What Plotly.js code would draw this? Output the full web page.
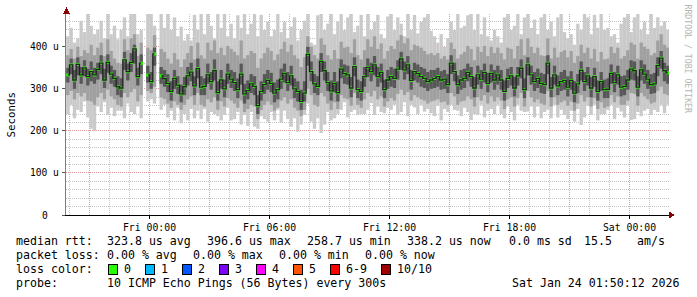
<!DOCTYPE html>
<html><head><meta charset="utf-8">
<script src="https://cdn.plot.ly/plotly-3.0.1.min.js"></script>
<style>
html,body{margin:0;padding:0;background:#fff;}
#chart{width:697px;height:297px;}
.shapelayer path{shape-rendering:crispEdges;}
</style>
</head><body><div id="chart"></div>
<script>
// ---- data (microseconds), one value per 10-minute step starting Thu 19:50 ----
const median = [
333,357,321,358,333,350,329,341,333,346,
361,321,363,335,325,305,302,369,341,363,
395,329,361,null,333,317,383,null,331,324,
313,294,325,309,288,305,331,340,307,348,
304,306,333,317,343,291,321,300,335,323,
315,298,335,288,296,312,306,260,294,310,
320,313,290,298,323,337,315,331,300,294,
270,290,382,341,312,306,365,343,315,295,
313,291,347,336,333,302,353,298,294,329,
351,341,357,329,339,298,321,329,325,347,
371,345,357,320,341,336,329,325,317,321,
325,329,321,323,310,361,341,310,321,325,
339,329,302,333,323,339,313,337,321,333,
321,294,325,331,302,331,349,298,357,333,
317,325,313,310,361,302,333,307,317,320,
304,320,290,312,344,317,331,302,329,294,
317,298,299,337,315,333,304,306,321,347,
343,304,345,335,323,310,312,355,373,343,
338];
const pingMax = [
425,445,410,420,462,435,482,450,430,440,
462,420,485,430,450,418,440,470,425,485,
478,430,440,null,485,490,450,null,480,445,
485,440,470,425,448,415,430,415,476,440,
482,430,488,450,420,478,445,485,425,455,
420,475,445,488,430,455,480,425,476,440,
460,425,440,488,435,460,420,448,470,415,
440,462,480,410,405,475,488,440,455,480,
430,460,482,440,470,488,435,450,476,425,
480,440,460,476,430,420,472,485,440,470,
455,425,480,440,476,432,460,470,482,438,
425,410,430,400,420,460,440,480,445,450,
475,485,440,480,430,470,425,415,440,425,
410,470,480,440,450,488,430,470,482,445,
465,430,470,482,440,460,425,470,478,435,
420,430,405,455,440,480,470,430,476,445,
482,440,445,425,430,410,455,470,480,435,
470,482,440,460,430,478,445,470,450,460,
440];
const pingMin = [
240,262,230,250,245,270,232,205,200,258,
245,268,238,255,235,248,248,230,265,245,
240,258,230,null,270,275,265,null,250,262,
232,248,225,255,218,240,225,252,230,248,
228,252,222,245,240,235,225,238,255,225,
228,245,215,238,212,245,210,205,235,228,
222,245,225,250,220,248,228,210,230,198,
215,238,265,222,205,230,195,215,245,225,
230,240,250,268,232,245,250,238,240,240,
250,266,238,258,245,242,255,250,262,238,
245,268,235,262,256,240,262,246,252,242,
235,260,225,252,245,262,250,248,235,255,
245,226,240,238,262,232,248,252,240,262,
240,230,258,245,225,262,248,245,246,258,
232,258,230,245,250,230,262,232,250,238,
228,248,222,252,214,232,260,238,262,225,
240,240,250,262,228,255,246,232,260,226,
228,245,235,248,252,238,250,245,262,242,
262];
const outerHi = [
380,395,372,400,378,392,385,405,380,398,
410,378,418,390,372,362,360,418,392,420,
430,378,410,null,398,392,428,null,395,388,
372,360,385,370,352,370,385,402,370,410,
380,372,410,392,415,385,398,380,402,395,
388,380,415,372,380,390,385,350,372,385,
398,390,368,382,395,412,388,405,380,372,
352,375,425,400,380,372,420,405,380,370,
392,372,412,398,400,385,418,380,370,392,
418,400,425,395,408,372,390,402,395,415,
428,408,420,392,405,402,398,390,382,385,
380,385,372,378,370,410,395,372,382,388,
402,395,368,400,388,402,378,400,385,398,
385,370,398,395,372,402,418,380,420,400,
385,398,380,378,420,372,398,375,388,392,
375,390,362,378,405,385,398,372,395,365,
388,370,372,400,385,398,372,378,392,410,
405,372,410,400,395,380,385,415,430,405,
398];
const outerLo = [
285,295,275,290,282,290,272,270,262,280,
290,275,298,282,275,262,258,290,280,292,
300,270,285,null,295,290,305,null,280,276,
265,255,270,262,250,262,275,282,262,290,
262,258,275,268,280,250,270,258,278,272,
265,255,272,245,252,262,258,228,250,262,
270,262,248,255,272,280,265,275,255,248,
235,250,300,285,262,258,290,282,265,250,
268,252,285,278,275,260,290,262,255,275,
290,282,295,275,282,258,270,278,272,288,
298,285,292,272,285,280,275,272,265,270,
272,275,268,270,262,290,282,262,270,272,
282,275,258,280,272,285,265,282,270,280,
272,252,275,280,258,278,290,258,295,280,
268,275,265,262,295,258,280,262,268,272,
260,270,248,265,285,270,280,258,278,252,
268,255,258,285,268,282,262,262,272,290,
288,260,290,282,275,265,268,295,305,288,
285];
const innerHi = [
350,372,345,375,352,368,348,365,350,362,
380,348,382,355,345,330,325,388,360,385,
405,350,382,null,355,340,398,null,352,345,
335,318,345,330,310,328,352,362,330,372,
330,325,360,340,370,318,345,322,360,345,
340,325,360,312,320,335,330,285,318,335,
345,338,315,322,348,360,340,355,325,318,
298,318,400,365,335,330,385,365,340,320,
340,318,370,358,355,328,375,322,318,352,
372,362,378,352,360,322,345,352,348,368,
388,365,378,345,362,358,352,348,340,345,
345,350,342,345,335,380,362,332,345,348,
360,352,328,355,345,360,338,358,345,355,
345,320,348,352,328,352,370,325,375,355,
340,348,338,335,380,328,355,332,340,345,
330,342,318,335,365,340,352,328,350,320,
340,322,325,358,340,355,330,332,345,368,
365,330,368,358,345,335,338,375,390,362,
355];
const innerLo = [
315,335,300,332,312,330,308,318,312,322,
335,302,338,312,305,285,280,345,320,340,
360,308,335,null,315,300,355,null,312,305,
292,272,300,288,268,285,308,318,285,325,
285,285,312,298,320,272,300,280,312,302,
295,278,310,265,275,290,285,240,272,288,
298,292,268,275,300,315,295,308,278,270,
250,270,355,318,290,285,340,320,295,272,
292,270,325,312,310,280,330,278,272,305,
328,318,332,305,315,278,300,305,302,322,
345,322,335,298,320,315,305,302,295,300,
302,305,298,300,290,335,318,288,298,302,
318,305,280,310,300,315,292,315,298,310,
298,272,302,308,282,308,325,278,332,310,
295,302,290,288,335,280,310,285,295,298,
282,298,268,290,320,295,308,280,305,272,
295,278,278,312,292,310,282,285,298,322,
320,282,320,312,300,288,290,330,348,318,
312];

const yTickVals = [0,100,200,300,400];
const yTickText = ['0','100 u','200 u','300 u','400 u'];
const lossColors = ['#26ff00','#00b8ff','#0059ff','#7e00ff','#ff00ff','#ff5500','#ff0000','#a00000'];
const lossLabels = ['0','1','2','3','4','5','6-9','10/10'];
const row1 = ['median rtt:','323.8 us avg','396.6 us max','258.7 us min','338.2 us now','0.0 ms sd','15.5','am/s'];
const row2 = ['packet loss:','0.00 % avg','0.00 % max','0.00 % min','0.00 % now'];
const row3Title = 'loss color:';
const row4 = ['probe:','10 ICMP Echo Pings (56 Bytes) every 300s','Sat Jan 24 01:50:12 2026'];

// ---- layout geometry ----
const W=697,H=297,ML=66,MR=28,MT=14,MB=82;
const PW=W-ML-MR, PH=H-MT-MB;
const HOUR=3600000, STEP=600000;
const T0=Date.UTC(2026,0,22,19,50);
const XSTART=Date.UTC(2026,0,22,19,49,30);
const XEND=XSTART+PW/20*HOUR;
const YMAX=478;
const iso = ms => new Date(ms).toISOString().replace('T',' ').replace('Z','');
const times = median.map((_,i)=>iso(T0+i*STEP+STEP/2));
const px = p => (p-ML)/PW;
const py = p => (MT+PH-p)/PH;
const MONO = 'DejaVu Sans Mono, monospace';

function band(lo, hi, color){
  return {type:'bar', x:times, base:lo,
    y:hi.map((h,i)=>(h==null||lo[i]==null)?null:h-lo[i]),
    width:STEP, marker:{color:color, line:{width:0}},
    hoverinfo:'skip', showlegend:false};
}
const traces = [
  band(pingMin, pingMax, '#cacaca'),
  band(outerLo, outerHi, '#a0a0a0'),
  band(innerLo, innerHi, '#585858'),
  {type:'scatter', mode:'lines', x:times, y:median, connectgaps:false,
   line:{shape:'hvh', color:'#222222', width:1.3}, hoverinfo:'skip', showlegend:false},
  {type:'bar', x:times, base:median.map(m=>m==null?null:m-3.5),
   y:median.map(m=>m==null?null:7), width:STEP,
   marker:{color:lossColors[0], line:{width:0}}, hoverinfo:'skip', showlegend:false}
];

// ---- grid ----
const MAJOR='#dc9a9a', MINOR='#c4c4c4';
const shapes=[];
for(let t=Math.ceil(XSTART/HOUR)*HOUR; t<XEND; t+=HOUR){
  const major = new Date(t).getUTCHours()%3===0;
  shapes.push({type:'line', xref:'x', yref:'paper', x0:iso(t), x1:iso(t), y0:0, y1:1, layer:'below',
    line:{color:major?MAJOR:MINOR, width:1, dash:'1px,1px'}});
}
for(let v=20; v<YMAX; v+=20){
  const major = v%100===0;
  shapes.push({type:'line', xref:'paper', yref:'y', x0:0, x1:1, y0:v, y1:v, layer:'below',
    line:{color:major?MAJOR:MINOR, width:1, dash:'1px,1px'}});
}
// arrows
shapes.push({type:'path', xref:'paper', yref:'paper', layer:'above',
  path:`M ${px(63)} ${py(13.5)} L ${px(70)} ${py(13.5)} L ${px(66.5)} ${py(7)} Z`,
  fillcolor:'#8b0000', line:{width:0}});
shapes.push({type:'path', xref:'paper', yref:'paper', layer:'above',
  path:`M ${px(669)} ${py(211.5)} L ${px(669)} ${py(218.5)} L ${px(675)} ${py(215)} Z`,
  fillcolor:'#8b0000', line:{width:0}});

// ---- texts ----
const ann=[];
function text(x,y,t,o={}){
  ann.push(Object.assign({xref:'paper', yref:'paper', x:px(x), y:py(y), text:t, showarrow:false,
    xanchor:'left', yanchor:'middle', borderpad:0, borderwidth:0,
    font:{family:MONO, size:11.6, color:'#000'}}, o));
}
yTickVals.forEach((v,i)=>{
  ann.push({xref:'paper', yref:'y', x:px(v===0?47.5:59), y:v, text:yTickText[i], showarrow:false,
    xanchor:'right', yanchor:'middle', borderpad:0, borderwidth:0,
    font:{family:MONO, size:9.6, color:'#000'}});
});
text(11,114.5,'Seconds',{xanchor:'center', textangle:-90, font:{family:MONO,size:10.8,color:'#000'}});
text(687.5,59,'RRDTOOL / TOBI OETIKER',{xanchor:'center', textangle:90, font:{family:MONO,size:8.2,color:'#b4b4b4'}});

const row1X=[16,107,207,307,407,509,584,637];
row1.forEach((t,i)=>text(row1X[i],241,t));
const row2X=[16,107,193,279,365];
row2.forEach((t,i)=>text(row2X[i],255,t));
text(16,269,row3Title);
const boxX=[108,145,182,219,256,293,330,381];
lossLabels.forEach((l,i)=>{
  shapes.push({type:'rect', xref:'paper', yref:'paper', layer:'above',
    x0:px(boxX[i]), x1:px(boxX[i]+9), y0:py(274), y1:py(264),
    fillcolor:lossColors[i], line:{color:'#000', width:1}});
  text(boxX[i]+15.5,269,l);
});
text(16,283,row4[0]);
text(107,283,row4[1]);
text(680,283,row4[2],{xanchor:'right'});

const layout = {
  width:W, height:H, margin:{l:ML, r:MR, t:MT, b:MB, pad:0},
  paper_bgcolor:'#fff', plot_bgcolor:'#fff',
  barmode:'overlay', showlegend:false, hovermode:false,
  xaxis:{type:'date', range:[iso(XSTART), iso(XEND)], fixedrange:true,
    showgrid:false, zeroline:false, showline:true, linecolor:'#000', linewidth:1,
    tickmode:'linear', tick0:'2026-01-23 00:00:00', dtick:6*HOUR, tickformat:'%a %H:%M',
    ticks:'outside', ticklen:3, tickwidth:1, tickcolor:'#000',
    tickfont:{family:MONO, size:9.8, color:'#000'}},
  yaxis:{range:[0,YMAX], fixedrange:true, showgrid:false, zeroline:false,
    showline:true, linecolor:'#7f7f7f', linewidth:1,
    tickmode:'array', tickvals:yTickVals, showticklabels:false,
    ticks:'outside', ticklen:3, tickcolor:'#555'},
  shapes:shapes, annotations:ann
};
Plotly.newPlot('chart', traces, layout, {staticPlot:true, displayModeBar:false});
</script>
</body></html>
